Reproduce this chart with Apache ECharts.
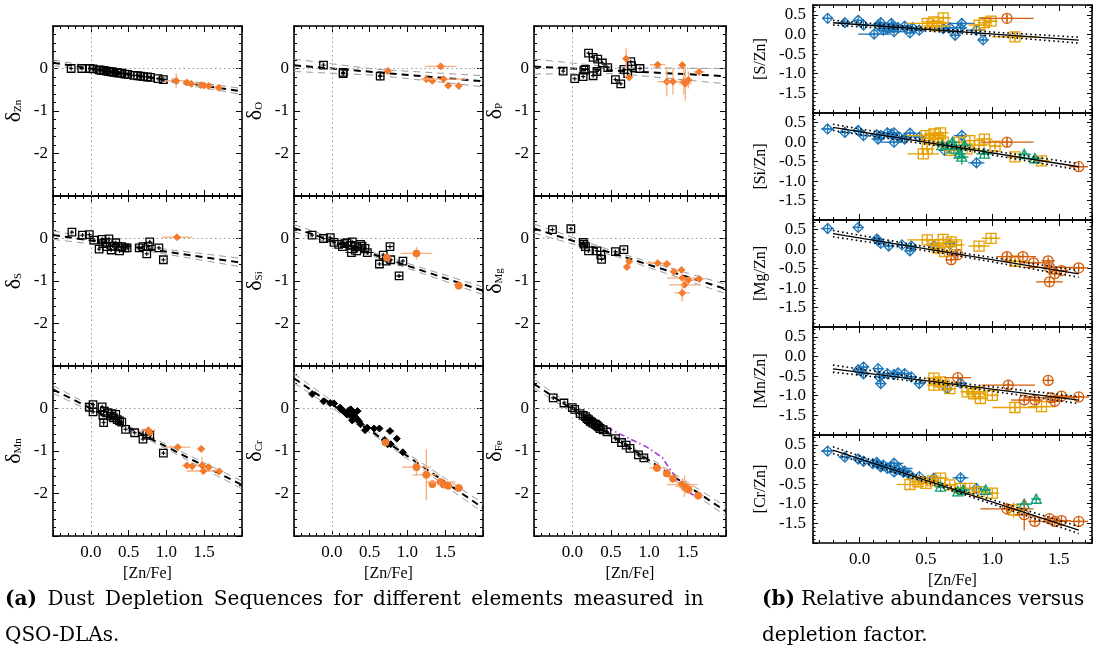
<!DOCTYPE html>
<html><head><meta charset="utf-8">
<script src="https://cdn.jsdelivr.net/npm/echarts@6/dist/echarts.min.js"></script>
<style>html,body{margin:0;padding:0;background:#fff}#c{width:1099px;height:650px}</style>
</head><body><div id="c"></div>
<script>
// ================= DATA =================
// rows: [x, y, xerr, yerr]
const leftElements = ['Zn','O','P','S','Si','Mg','Mn','Cr','Fe'];
const rightLabels = ['[S/Zn]','[Si/Zn]','[Mg/Zn]','[Mn/Zn]','[Cr/Zn]'];
const xTickLabels = ['0.0','0.5','1.0','1.5'];

const znBlack = [[-0.26,0.0,0,0],[-0.12,0.0,0,0],[-0.01,0.0,0,0],[0.03,-0.01,0,0],[0.11,-0.03,0,0],[0.13,-0.04,0,0],[0.16,-0.05,0,0],[0.18,-0.05,0,0],[0.21,-0.06,0,0],[0.24,-0.07,0,0],[0.27,-0.08,0,0],[0.29,-0.08,0,0],[0.31,-0.09,0,0],[0.35,-0.10,0,0],[0.38,-0.11,0,0],[0.41,-0.11,0,0],[0.45,-0.13,0,0],[0.49,-0.14,0,0],[0.57,-0.16,0,0],[0.62,-0.17,0,0],[0.66,-0.18,0,0],[0.70,-0.19,0,0],[0.75,-0.20,0,0],[0.79,-0.21,0,0],[0.89,-0.24,0,0],[0.96,-0.26,0,0]];
const znOrange = [[1.13,-0.29,0.15,0.17],[1.27,-0.33,0.05,0.05],[1.33,-0.36,0.05,0.05],[1.46,-0.39,0.06,0.06],[1.50,-0.40,0.05,0.05],[1.56,-0.41,0.05,0.05],[1.69,-0.45,0.05,0.06]];
const oBlack = [[-0.11,0.08,0,0],[0.15,-0.12,0,0],[0.15,-0.09,0,0],[0.64,-0.18,0.03,0.1]];
const oOrange = [[0.74,-0.06,0,0],[1.25,-0.25,0.04,0.03],[1.33,-0.29,0.04,0.03],[1.44,0.05,0.21,0.06],[1.48,-0.25,0.3,0.03],[1.54,-0.40,0.04,0.04],[1.68,-0.41,0.04,0.06]];
const pBlack = [[-0.12,-0.06,0,0],[0.03,-0.24,0,0],[0.14,-0.19,0,0],[0.15,-0.04,0,0],[0.17,-0.02,0,0],[0.21,0.36,0,0],[0.27,0.26,0,0],[0.27,-0.17,0,0],[0.33,0.22,0,0],[0.32,-0.07,0,0],[0.39,0.13,0,0],[0.46,0.02,0,0],[0.56,-0.26,0,0],[0.63,-0.36,0,0],[0.67,-0.02,0,0],[0.72,-0.12,0,0],[0.76,0.16,0,0],[0.77,0.07,0,0],[0.88,0.0,0,0]];
const pOrange = [[0.70,0.23,0.03,0.25],[0.74,-0.21,0.05,0.05],[1.11,0.09,0.1,0.04],[1.23,-0.31,0.12,0.35],[1.31,-0.31,0.1,0.3],[1.43,0.08,0.04,0.04],[1.45,-0.31,0.1,0.3],[1.47,-0.36,0.08,0.4],[1.51,-0.27,0.05,0.2],[1.65,-0.08,0.07,0.04]];
const sBlack = [[-0.25,0.15,0,0],[-0.11,0.08,0,0],[-0.02,0.09,0,0],[0.04,-0.04,0,0],[0.11,-0.25,0,0],[0.15,-0.02,0,0],[0.16,-0.12,0,0],[0.19,-0.09,0,0],[0.21,-0.19,0,0],[0.24,-0.01,0,0],[0.27,-0.27,0,0],[0.29,-0.18,0,0],[0.33,-0.10,0,0],[0.36,-0.19,0,0],[0.38,-0.29,0,0],[0.41,-0.19,0,0],[0.45,-0.22,0,0],[0.48,-0.22,0,0],[0.64,-0.22,0,0],[0.69,-0.19,0,0],[0.74,-0.36,0,0],[0.76,-0.19,0,0],[0.78,-0.08,0,0],[0.90,-0.22,0,0],[0.96,-0.50,0,0]];
const sOrange = [[1.14,0.03,0.2,0.03]];
const siBlack = [[-0.26,0.08,0,0],[-0.11,0.0,0,0],[-0.02,0.02,0,0],[0.03,-0.09,0,0],[0.09,-0.14,0,0],[0.14,-0.19,0,0],[0.17,-0.12,0,0],[0.20,-0.10,0,0],[0.25,-0.16,0,0],[0.26,-0.33,0.08,0],[0.27,-0.08,0,0],[0.31,-0.19,0,0],[0.33,-0.29,0,0],[0.38,-0.14,0,0],[0.40,-0.18,0,0],[0.44,-0.23,0,0],[0.47,-0.33,0.08,0],[0.63,-0.60,0,0],[0.68,-0.39,0,0],[0.72,-0.53,0,0],[0.77,-0.19,0.05,0],[0.78,-0.50,0,0],[0.89,-0.88,0.05,0],[0.94,-0.53,0,0]];
const siOrange = [[0.73,-0.45,0,0],[1.12,-0.35,0.21,0.15],[1.68,-1.11,0.05,0.04]];
const mgBlack = [[-0.26,0.21,0,0],[-0.02,0.23,0,0],[0.14,-0.09,0,0],[0.15,-0.13,0,0],[0.17,-0.19,0,0],[0.21,-0.29,0,0],[0.32,-0.29,0,0],[0.37,-0.39,0,0],[0.38,-0.49,0,0],[0.56,-0.31,0,0],[0.67,-0.26,0,0]];
const mgOrange = [[0.71,-0.67,0.04,0.03],[0.74,-0.54,0.04,0.05],[1.11,-0.58,0.16,0.04],[1.23,-0.60,0.06,0.06],[1.32,-0.78,0.04,0.04],[1.42,-0.74,0.04,0.04],[1.43,-0.93,0.2,0.05],[1.46,-1.09,0.2,0.06],[1.51,-0.98,0.08,0.08],[1.43,-1.28,0.1,0.2],[1.65,-0.95,0.08,0.04]];
const mnBlack = [[-0.02,0.03,0,0],[0.03,0.09,0,0],[0.03,-0.08,0,0],[0.15,0.04,0,0],[0.16,-0.16,0,0],[0.17,-0.33,0,0.08],[0.18,-0.06,0,0],[0.22,-0.10,0,0],[0.27,-0.18,0,0],[0.28,-0.12,0,0],[0.30,-0.22,0,0],[0.33,-0.14,0,0],[0.35,-0.26,0,0],[0.38,-0.29,0,0],[0.41,-0.32,0,0],[0.46,-0.49,0,0],[0.58,-0.57,0,0],[0.69,-0.72,0,0],[0.74,-0.60,0,0],[0.78,-0.63,0,0],[0.96,-1.05,0,0]];
const mnOrange = [[0.76,-0.51,0.1,0.04],[0.78,-0.57,0.04,0.04],[1.15,-0.91,0.17,0.04],[1.27,-1.34,0.06,0.04],[1.34,-1.36,0.05,0.04],[1.46,-0.95,0.03,0.04],[1.47,-1.34,0.08,0.2],[1.49,-1.47,0.22,0.05],[1.56,-1.38,0.06,0.05],[1.70,-1.48,0.05,0.05]];
const crBlack = [[-0.26,0.34,0,0],[-0.11,0.17,0,0],[-0.02,0.13,0,0],[0.03,0.12,0,0],[0.11,0.02,0,0],[0.12,-0.01,0,0],[0.14,-0.04,0,0],[0.16,-0.07,0,0],[0.17,-0.09,0,0],[0.20,-0.14,0,0],[0.22,-0.05,0,0],[0.25,-0.02,0,0],[0.26,-0.19,0,0],[0.27,-0.28,0,0],[0.28,-0.15,0,0],[0.30,-0.10,0,0],[0.31,-0.20,0,0],[0.33,-0.24,0,0],[0.34,-0.06,0.05,0],[0.36,-0.30,0,0],[0.38,-0.37,0,0],[0.44,-0.51,0,0],[0.47,-0.45,0.05,0],[0.56,-0.47,0,0],[0.63,-0.47,0,0],[0.70,-0.74,0,0],[0.74,-0.84,0,0],[0.78,-0.84,0,0],[0.77,-0.53,0.05,0],[0.86,-0.71,0,0],[0.94,-1.03,0,0]];
const crOrange = [[0.71,-0.80,0.03,0.03],[1.12,-1.38,0.19,0.2],[1.25,-1.56,0.18,0.6],[1.33,-1.78,0.04,0.04],[1.44,-1.73,0.2,0.05],[1.48,-1.79,0.08,0.06],[1.54,-1.82,0.06,0.05],[1.68,-1.87,0.05,0.05]];
const feBlack = [[-0.25,0.25,0,0],[-0.11,0.13,0,0],[0.0,0.02,0,0],[0.03,-0.02,0,0],[0.10,-0.12,0,0],[0.14,-0.16,0,0],[0.17,-0.19,0,0],[0.19,-0.24,0,0],[0.21,-0.26,0,0],[0.23,-0.30,0,0],[0.25,-0.32,0,0],[0.27,-0.35,0,0],[0.30,-0.37,0,0],[0.32,-0.40,0,0],[0.34,-0.43,0,0],[0.36,-0.47,0,0],[0.40,-0.50,0,0],[0.45,-0.55,0,0],[0.56,-0.71,0,0],[0.64,-0.80,0,0],[0.70,-0.86,0,0],[0.75,-0.94,0,0],[0.86,-1.09,0,0],[0.93,-1.16,0,0]];
const feOrange = [[1.10,-1.40,0.1,0.05],[1.23,-1.53,0.05,0.05],[1.31,-1.65,0.05,0.05],[1.43,-1.79,0.2,0.15],[1.46,-1.83,0.12,0.25],[1.48,-1.87,0.08,0.1],[1.51,-1.91,0.06,0.06],[1.64,-2.05,0.07,0.05]];
const fePurple = [[0.45,-0.45],[0.97,-0.91],[1.17,-1.15],[1.25,-1.38],[1.36,-1.65],[1.45,-1.88],[1.64,-2.12]];

// fit lines: centre, upper and lower band
const leftFits = {
  Zn: {fit:[[-0.5,0.135],[2.0,-0.54]], up:[[-0.5,0.20],[0.6,-0.13],[2.0,-0.47]], lo:[[-0.5,0.07],[0.6,-0.19],[2.0,-0.61]]},
  O:  {fit:[[-0.5,0.075],[2.0,-0.30]], up:[[-0.5,0.22],[0.6,-0.02],[2.0,-0.17]], lo:[[-0.5,-0.07],[0.6,-0.16],[2.0,-0.43]]},
  P:  {fit:[[-0.5,0.045],[2.0,-0.18]], up:[[-0.5,0.22],[0.6,0.02],[2.0,0.0]], lo:[[-0.5,-0.13],[0.6,-0.12],[2.0,-0.36]]},
  S:  {fit:[[-0.5,0.08],[2.0,-0.57]], up:[[-0.5,0.18],[0.6,-0.17],[2.0,-0.47]], lo:[[-0.5,-0.02],[0.6,-0.25],[2.0,-0.67]]},
  Si: {fit:[[-0.5,0.245],[2.0,-1.23]], up:[[-0.5,0.33],[0.6,-0.36],[2.0,-1.14]], lo:[[-0.5,0.16],[0.6,-0.45],[2.0,-1.32]]},
  Mg: {fit:[[-0.5,0.235],[2.0,-1.19]], up:[[-0.5,0.34],[0.6,-0.34],[2.0,-1.08]], lo:[[-0.5,0.13],[0.6,-0.44],[2.0,-1.30]]},
  Mn: {fit:[[-0.5,0.45],[2.0,-1.80]], up:[[-0.5,0.54],[0.6,-0.50],[2.0,-1.71]], lo:[[-0.5,0.36],[0.6,-0.58],[2.0,-1.89]]},
  Cr: {fit:[[-0.5,0.71],[2.0,-2.34]], up:[[-0.5,0.82],[0.6,-0.59],[2.0,-2.23]], lo:[[-0.5,0.60],[0.6,-0.68],[2.0,-2.45]]},
  Fe: {fit:[[-0.5,0.58],[2.0,-2.42]], up:[[-0.5,0.68],[0.6,-0.70],[2.0,-2.31]], lo:[[-0.5,0.48],[0.6,-0.78],[2.0,-2.53]]}
};
const rightFits = [
  {fit:[[-0.2,0.298],[1.65,-0.146]], up:[[-0.2,0.36],[0.7,0.12],[1.65,-0.07]], lo:[[-0.2,0.24],[0.7,0.045],[1.65,-0.22]]},
  {fit:[[-0.2,0.379],[1.65,-0.631]], up:[[-0.2,0.46],[0.7,-0.07],[1.65,-0.55]], lo:[[-0.2,0.30],[0.7,-0.15],[1.65,-0.71]]},
  {fit:[[-0.2,0.402],[1.65,-0.634]], up:[[-0.2,0.48],[0.7,-0.06],[1.65,-0.55]], lo:[[-0.2,0.32],[0.7,-0.145],[1.65,-0.72]]},
  {fit:[[-0.2,-0.314],[1.65,-1.11]], up:[[-0.2,-0.22],[0.7,-0.66],[1.65,-1.02]], lo:[[-0.2,-0.40],[0.7,-0.74],[1.65,-1.20]]},
  {fit:[[-0.2,0.365],[1.65,-1.67]], up:[[-0.2,0.45],[0.7,-0.585],[1.65,-1.58]], lo:[[-0.2,0.28],[0.7,-0.665],[1.65,-1.76]]}
];

// right panels: blue diamonds, orange squares, green triangles, vermilion circles
const sznBlue = [[-0.24,0.41,0.04,0.03],[-0.11,0.30,0.05,0.04],[-0.01,0.36,0.04,0.03],[0.03,0.24,0.04,0.04],[0.11,0.01,0.12,0.04],[0.14,0.24,0.05,0.05],[0.16,0.30,0.04,0.04],[0.18,0.11,0.05,0.05],[0.21,0.15,0.05,0.04],[0.24,0.28,0.05,0.04],[0.25,0.19,0.04,0.04],[0.26,0.07,0.1,0.04],[0.29,0.17,0.06,0.04],[0.34,0.21,0.05,0.04],[0.38,0.04,0.04,0.04],[0.40,0.17,0.04,0.04],[0.45,0.11,0.04,0.04],[0.63,0.15,0.05,0.04],[0.68,0.17,0.04,0.04],[0.72,-0.02,0.04,0.04],[0.76,0.17,0.05,0.04],[0.77,0.28,0.1,0.04],[0.88,0.11,0.07,0.04],[0.93,-0.14,0.04,0.04]];
const sznOrange = [[0.51,0.28,0.15,0.06],[0.56,0.32,0.08,0.06],[0.58,0.22,0.1,0.06],[0.63,0.42,0.06,0.05],[0.90,0.24,0.08,0.05],[0.94,0.30,0.05,0.05],[0.99,0.34,0.05,0.05],[1.17,-0.06,0.17,0.1]];
const sznVerm = [[1.11,0.41,0.2,0.1]];
const sznGreen = [];
const siznBlue = [[-0.24,0.34,0.05,0.03],[-0.11,0.25,0.05,0.04],[-0.01,0.30,0.04,0.03],[0.03,0.17,0.04,0.04],[0.13,0.19,0.05,0.05],[0.14,0.08,0.05,0.04],[0.16,0.17,0.04,0.04],[0.21,0.24,0.06,0.04],[0.24,0.21,0.04,0.04],[0.26,0.0,0.1,0.04],[0.26,0.24,0.05,0.04],[0.30,0.13,0.05,0.04],[0.34,0.08,0.05,0.04],[0.38,0.23,0.05,0.04],[0.45,0.13,0.05,0.04],[0.64,-0.21,0.04,0.05],[0.67,-0.08,0.04,0.04],[0.77,0.17,0.06,0.04],[0.88,-0.53,0.06,0.04]];
const siznOrange = [[0.50,0.17,0.15,0.06],[0.51,-0.17,0.05,0.08],[0.53,0.10,0.06,0.1],[0.56,0.21,0.06,0.06],[0.59,0.08,0.06,0.06],[0.61,0.24,0.06,0.06],[0.63,0.0,0.06,0.06],[0.69,-0.21,0.06,0.06],[0.75,0.0,0.06,0.06],[0.81,-0.17,0.08,0.06],[0.83,0.04,0.05,0.1],[0.90,-0.08,0.06,0.06],[0.94,0.08,0.06,0.06],[1.02,-0.10,0.05,0.06],[1.17,-0.38,0.06,0.08],[1.37,-0.48,0.06,0.06],[0.48,-0.30,0.12,0.05]];
const siznVerm = [[1.11,0.0,0.2,0.12],[1.65,-0.63,0.07,0.04]];
const siznGreen = [[0.62,-0.08,0.05,0.06],[0.70,0.0,0.05,0.06],[0.71,-0.17,0.1,0.06],[0.75,-0.30,0.05,0.08],[0.77,-0.38,0.05,0.2],[0.79,-0.08,0.05,0.06],[0.94,-0.30,0.06,0.06],[1.24,-0.31,0.05,0.05],[1.32,-0.42,0.05,0.05]];
const mgznBlue = [[-0.24,0.53,0.05,0.03],[-0.01,0.56,0.04,0.03],[0.13,0.26,0.04,0.04],[0.14,0.22,0.04,0.04],[0.16,0.15,0.04,0.04],[0.22,0.08,0.04,0.04],[0.32,0.11,0.04,0.04],[0.38,-0.04,0.04,0.04],[0.39,0.08,0.04,0.04],[0.56,0.09,0.05,0.04],[0.68,0.13,0.04,0.04]];
const mgznOrange = [[0.51,0.24,0.15,0.06],[0.56,0.11,0.06,0.06],[0.59,0.03,0.06,0.06],[0.63,0.25,0.06,0.06],[0.64,-0.06,0.06,0.06],[0.69,0.19,0.06,0.06],[0.73,0.11,0.06,0.06],[0.90,0.08,0.08,0.05],[0.99,0.28,0.07,0.06],[1.17,-0.31,0.1,0.08]];
const mgznVerm = [[0.69,-0.27,0.04,0.05],[0.74,-0.14,0.04,0.06],[1.11,-0.19,0.08,0.1],[1.23,-0.19,0.1,0.05],[1.31,-0.35,0.1,0.05],[1.42,-0.30,0.05,0.05],[1.43,-0.47,0.2,0.06],[1.47,-0.63,0.05,0.06],[1.43,-0.84,0.1,0.1],[1.52,-0.55,0.05,0.05],[1.65,-0.48,0.07,0.05]];
const mgznGreen = [];
const mnznBlue = [[-0.01,-0.34,0.04,0.04],[0.03,-0.27,0.04,0.04],[0.03,-0.44,0.04,0.04],[0.14,-0.31,0.04,0.04],[0.15,-0.52,0.04,0.04],[0.16,-0.69,0.04,0.06],[0.21,-0.44,0.04,0.04],[0.26,-0.46,0.04,0.04],[0.29,-0.42,0.04,0.04],[0.34,-0.44,0.05,0.04],[0.39,-0.52,0.04,0.04],[0.45,-0.69,0.04,0.04],[0.66,-0.82,0.04,0.04],[0.76,-0.68,0.05,0.04]];
const mnznOrange = [[0.56,-0.55,0.06,0.06],[0.56,-0.73,0.05,0.06],[0.61,-0.65,0.05,0.06],[0.64,-0.73,0.05,0.06],[0.68,-0.82,0.05,0.06],[0.81,-0.90,0.05,0.06],[0.86,-0.95,0.06,0.06],[0.90,-0.90,0.06,0.06],[0.91,-1.07,0.05,0.06],[1.00,-0.99,0.05,0.06],[1.17,-1.30,0.17,0.1],[1.37,-1.28,0.1,0.05]];
const mnznVerm = [[0.74,-0.54,0.1,0.05],[1.12,-0.73,0.2,0.1],[1.24,-1.11,0.1,0.05],[1.32,-1.11,0.06,0.05],[1.42,-0.61,0.04,0.04],[1.44,-1.05,0.2,0.05],[1.47,-1.14,0.05,0.05],[1.52,-1.01,0.07,0.05],[1.65,-1.03,0.08,0.04]];
const mnznGreen = [];
const crznBlue = [[-0.24,0.34,0.05,0.03],[-0.11,0.19,0.05,0.03],[-0.01,0.14,0.04,0.03],[0.03,0.08,0.04,0.03],[0.10,0.02,0.04,0.04],[0.13,0.05,0.05,0.04],[0.14,0.0,0.05,0.04],[0.16,-0.06,0.04,0.04],[0.18,-0.02,0.04,0.04],[0.21,-0.10,0.05,0.04],[0.24,-0.05,0.04,0.04],[0.26,0.03,0.07,0.04],[0.26,-0.19,0.05,0.04],[0.28,-0.13,0.04,0.04],[0.30,-0.10,0.1,0.04],[0.33,-0.20,0.04,0.04],[0.34,-0.17,0.05,0.04],[0.38,-0.27,0.04,0.04],[0.45,-0.31,0.05,0.04],[0.56,-0.35,0.06,0.04],[0.76,-0.34,0.06,0.04],[0.88,-0.61,0.04,0.04]];
const crznOrange = [[0.38,-0.51,0.1,0.05],[0.44,-0.44,0.06,0.05],[0.50,-0.48,0.06,0.06],[0.55,-0.42,0.06,0.06],[0.61,-0.35,0.06,0.06],[0.68,-0.52,0.06,0.06],[0.76,-0.61,0.06,0.06],[0.83,-0.61,0.06,0.06],[0.90,-0.69,0.06,0.06],[1.00,-0.73,0.05,0.06],[1.16,-1.16,0.06,0.2]];
const crznVerm = [[1.11,-1.13,0.2,0.15],[1.24,-1.28,0.07,0.4],[1.32,-1.45,0.05,0.05],[1.43,-1.38,0.07,0.05],[1.47,-1.45,0.1,0.05],[1.52,-1.43,0.07,0.04],[1.65,-1.45,0.07,0.04]];
const crznGreen = [[0.61,-0.57,0.04,0.05],[0.74,-0.69,0.05,0.06],[0.78,-0.65,0.05,0.06],[0.95,-0.65,0.04,0.04],[1.24,-1.01,0.06,0.05],[1.33,-0.88,0.03,0.04]];

// ================= BUILD =================
const leftBlack = {Zn:znBlack,O:oBlack,P:pBlack,S:sBlack,Si:siBlack,Mg:mgBlack,Mn:mnBlack,Cr:crBlack,Fe:feBlack};
const leftOrange = {Zn:znOrange,O:oOrange,P:pOrange,S:sOrange,Si:siOrange,Mg:mgOrange,Mn:mnOrange,Cr:crOrange,Fe:feOrange};
const rightSets = [
  [sznBlue,sznOrange,sznGreen,sznVerm],
  [siznBlue,siznOrange,siznGreen,siznVerm],
  [mgznBlue,mgznOrange,mgznGreen,mgznVerm],
  [mnznBlue,mnznOrange,mnznGreen,mnznVerm],
  [crznBlue,crznOrange,crznGreen,crznVerm]
];

const SERIF = 'Liberation Serif';
const C_BLUE = '#1b75b8', C_ORANGE = '#e6a000', C_GREEN = '#0f9e74', C_VERM = '#d25d0b';
const C_LOR = '#f47a2c', C_LOR_EB = '#f9ad80';

function pointRenderer(o) {
  return function (params, api) {
    const x = api.value(0), y = api.value(1), xe = api.value(2) || 0, ye = api.value(3) || 0;
    const c = api.coord([x, y]);
    const ch = [];
    const eb = {stroke: o.eb, lineWidth: o.ebw};
    if (xe > 0) { const a = api.coord([x - xe, y]), b = api.coord([x + xe, y]);
      ch.push({type:'line', shape:{x1:a[0],y1:a[1],x2:b[0],y2:b[1]}, style: eb}); }
    if (ye > 0) { const a = api.coord([x, y - ye]), b = api.coord([x, y + ye]);
      ch.push({type:'line', shape:{x1:a[0],y1:a[1],x2:b[0],y2:b[1]}, style: eb}); }
    const s = o.size / 2;
    const st = {fill: o.fill, stroke: o.stroke, lineWidth: o.lw};
    if (o.shape === 'rect') ch.push({type:'rect', shape:{x:c[0]-s,y:c[1]-s,width:2*s,height:2*s}, style: st});
    else if (o.shape === 'circle') ch.push({type:'circle', shape:{cx:c[0],cy:c[1],r:s}, style: st});
    else if (o.shape === 'diamond') ch.push({type:'polygon', shape:{points:[[c[0],c[1]-s],[c[0]+s,c[1]],[c[0],c[1]+s],[c[0]-s,c[1]]]}, style: st});
    else if (o.shape === 'triangle') ch.push({type:'polygon', shape:{points:[[c[0],c[1]-s],[c[0]+s,c[1]+s*0.85],[c[0]-s,c[1]+s*0.85]]}, style: st});
    if (o.cross) {
      const k = s * o.cross;
      ch.push({type:'line', shape:{x1:c[0]-k,y1:c[1],x2:c[0]+k,y2:c[1]}, style:{stroke:o.stroke,lineWidth:o.lw*0.9}});
      ch.push({type:'line', shape:{x1:c[0],y1:c[1]-k,x2:c[0],y2:c[1]+k}, style:{stroke:o.stroke,lineWidth:o.lw*0.9}});
    }
    return {type:'group', children: ch};
  };
}

const grids = [], xAxes = [], yAxes = [], series = [];
const tickStyle = {color:'#000', width:1};
function baseAxis(gi, pos, min, max, interval, extra) {
  const a = Object.assign({
    gridIndex: gi, type:'value', position: pos, min: min, max: max,
    axisLine:{show:true, onZero:false, lineStyle:{color:'#000', width:1.6}},
    axisTick:{show:true, inside:true, length:6, lineStyle:tickStyle},
    minorTick:{show:true, splitNumber:5, length:3, lineStyle:tickStyle},
    splitLine:{show:false}, minorSplitLine:{show:false},
    axisLabel:{show:false}
  }, extra || {});
  if (interval != null) a.interval = interval;
  return a;
}
function lblX(v) { const r = Math.round(v * 2) / 2; if (Math.abs(r - v) > 1e-6 || v < -1e-6 || v > 1.6) return ''; return xTickLabels[Math.round(v * 2)] || ''; }

// ---- left grid ----
const colL = [53, 294, 534], colW = [189, 189, 192], rowT = [26, 196, 366], rowH = 170;
leftElements.forEach((el, i) => {
  const r = Math.floor(i / 3), cI = i % 3, gi = grids.length;
  grids.push({left: colL[cI], top: rowT[r], width: colW[cI], height: rowH});
  const bottom = r === 2;
  xAxes.push(baseAxis(gi, 'bottom', -0.5, 2.0, 0.5, bottom ? {
    axisLabel:{show:true, formatter: lblX, fontFamily:SERIF, fontSize:17, color:'#000', margin:8},
    name:'[Zn/Fe]', nameLocation:'middle', nameGap:30, nameTextStyle:{fontFamily:SERIF, fontSize:16, color:'#000'}
  } : {}));
  xAxes.push(baseAxis(gi, 'top', -0.5, 2.0, 0.5));
  yAxes.push(baseAxis(gi, 'left', -3, 1, 1, {
    axisLabel:{show:true, fontFamily:SERIF, fontSize:17, color:'#000', margin:5,
      formatter: v => (v > 0.5 || v < -2.5) ? '' : (v === 0 ? '0' : String(v))},
    name:'{d|δ}{s|' + el + '}', nameLocation:'middle', nameGap:28, nameRotate:90,
    nameTextStyle:{rich:{d:{fontSize:22, fontFamily:SERIF, color:'#000'}, s:{fontSize:11, fontFamily:SERIF, color:'#000', padding:[9,0,0,0]}}}
  }));
  yAxes.push(baseAxis(gi, 'right', -3, 1, 1));
  const xa = 2 * gi, ya = 2 * gi, f = leftFits[el];
  series.push({type:'line', xAxisIndex:xa, yAxisIndex:ya, data:f.fit, showSymbol:false, symbol:'none', silent:true, z:3,
    lineStyle:{color:'#000', width:2, type:[7,5]},
    markLine:{silent:true, symbol:'none', label:{show:false}, lineStyle:{color:'#999', type:[1.5,3], width:1},
      data:[{xAxis:0},{yAxis:0}]}});
  series.push({type:'line', xAxisIndex:xa, yAxisIndex:ya, data:f.up, showSymbol:false, symbol:'none', silent:true, z:2,
    lineStyle:{color:'#9a9a9a', width:1, type:[7,5]}});
  series.push({type:'line', xAxisIndex:xa, yAxisIndex:ya, data:f.lo, showSymbol:false, symbol:'none', silent:true, z:2,
    lineStyle:{color:'#9a9a9a', width:1, type:[7,5]}});
  if (el === 'Fe') series.push({type:'line', xAxisIndex:xa, yAxisIndex:ya, data:fePurple, showSymbol:false, symbol:'none', silent:true, z:4,
    lineStyle:{color:'#9b30d0', width:1.5, type:[6,3,1.5,3]}});
  const blackOpt = el === 'Cr'
    ? {shape:'diamond', size:7, fill:'#000', stroke:'#000', lw:1, eb:'#000', ebw:1}
    : {shape:'rect', size:7.5, fill:'rgba(255,255,255,0)', stroke:'#000', lw:1.3, eb:'#000', ebw:1, cross:0.55};
  series.push({type:'custom', xAxisIndex:xa, yAxisIndex:ya, clip:true, z:5, silent:true,
    encode:{x:0, y:1}, data: leftBlack[el], renderItem: pointRenderer(blackOpt)});
  series.push({type:'custom', xAxisIndex:xa, yAxisIndex:ya, clip:true, z:6, silent:true,
    encode:{x:0, y:1}, data: leftOrange[el],
    renderItem: pointRenderer({shape: el === 'Cr' || el === 'Fe' || el === 'Si' ? 'circle' : 'diamond', size:7, fill:C_LOR, stroke:C_LOR, lw:1, eb:C_LOR_EB, ebw:1.3})});
});

// ---- right grid ----
const rT = [5, 113, 220, 327, 435], rH = [108, 107, 107, 108, 108];
rightLabels.forEach((lab, k) => {
  const gi = grids.length, bottom = k === 4;
  grids.push({left: 813, top: rT[k], width: 279, height: rH[k]});
  xAxes.push(baseAxis(gi, 'bottom', -0.35, 1.75, null, Object.assign({splitNumber:4}, bottom ? {
    axisLabel:{show:true, formatter: lblX, fontFamily:SERIF, fontSize:17, color:'#000', margin:8, showMinLabel:true, showMaxLabel:true},
    name:'[Zn/Fe]', nameLocation:'middle', nameGap:30, nameTextStyle:{fontFamily:SERIF, fontSize:16, color:'#000'}
  } : {})));
  xAxes.push(baseAxis(gi, 'top', -0.35, 1.75, null, {splitNumber:4}));
  yAxes.push(baseAxis(gi, 'left', -2, 0.75, 0.5, {
    axisTick:{show:true, inside:true, length:5, lineStyle:tickStyle},
    minorTick:{show:true, splitNumber:5, length:2.5, lineStyle:tickStyle},
    axisLabel:{show:true, fontFamily:SERIF, fontSize:17, color:'#000', margin:7,
      formatter: v => (v < -1.9 || v > 0.6) ? '' : v.toFixed(1)},
    name: lab, nameLocation:'middle', nameGap:44, nameRotate:90,
    nameTextStyle:{fontFamily:SERIF, fontSize:16, color:'#000'}
  }));
  yAxes.push(baseAxis(gi, 'right', -2, 0.75, 0.5, {
    axisTick:{show:true, inside:true, length:5, lineStyle:tickStyle},
    minorTick:{show:true, splitNumber:5, length:2.5, lineStyle:tickStyle}}));
  const xa = 2 * gi, ya = 2 * gi, f = rightFits[k];
  series.push({type:'line', xAxisIndex:xa, yAxisIndex:ya, data:f.fit, showSymbol:false, symbol:'none', silent:true, z:8,
    lineStyle:{color:'#000', width:1.3, type:'solid'}});
  series.push({type:'line', xAxisIndex:xa, yAxisIndex:ya, data:f.up, showSymbol:false, symbol:'none', silent:true, z:8,
    lineStyle:{color:'#000', width:1.6, type:[1.6,3]}});
  series.push({type:'line', xAxisIndex:xa, yAxisIndex:ya, data:f.lo, showSymbol:false, symbol:'none', silent:true, z:8,
    lineStyle:{color:'#000', width:1.6, type:[1.6,3]}});
  const sets = rightSets[k];
  const specs = [
    {shape:'diamond', size:10, col:C_BLUE},
    {shape:'rect', size:10, col:C_ORANGE},
    {shape:'triangle', size:10, col:C_GREEN},
    {shape:'circle', size:10, col:C_VERM}
  ];
  sets.forEach((d, j) => {
    if (!d.length) return;
    const sp = specs[j];
    series.push({type:'custom', xAxisIndex:xa, yAxisIndex:ya, clip:true, z:5 + j, silent:true,
      encode:{x:0, y:1}, data:d,
      renderItem: pointRenderer({shape:sp.shape, size:sp.size, fill:'none', stroke:sp.col, lw:1.3, eb:sp.col, ebw:1.3, cross:1})});
  });
});

const capRich = {
  b:{fontFamily:'DejaVu Serif', fontSize:20, fontWeight:'bold', fill:'#000', lineHeight:36},
  w:{fontFamily:'DejaVu Serif', fontSize:20, width:10.5, lineHeight:36}
};
const chart = echarts.init(document.getElementById('c'), null, {renderer:'canvas'});
chart.setOption({
  animation:false, backgroundColor:'#fff',
  grid: grids, xAxis: xAxes, yAxis: yAxes, series: series,
  graphic: [
    {type:'text', left:5, top:582, silent:true, style:{
      text:'{b|(a)}{w| }Dust{w| }Depletion{w| }Sequences{w| }for{w| }different{w| }elements{w| }measured{w| }in\nQSO-DLAs.',
      fontFamily:'DejaVu Serif', fontSize:20, lineHeight:36, fill:'#000', rich: capRich}},
    {type:'text', left:762, top:582, silent:true, style:{
      text:'{b|(b)} Relative abundances versus\ndepletion factor.',
      fontFamily:'DejaVu Serif', fontSize:20, lineHeight:36, fill:'#000', rich: capRich}}
  ]
});
</script></body></html>
